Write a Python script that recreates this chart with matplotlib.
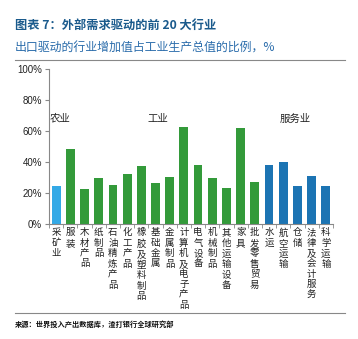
import matplotlib
matplotlib.use("Agg")
import matplotlib.pyplot as plt
from matplotlib.lines import Line2D

plt.rcParams['font.family'] = ['Noto Sans CJK SC', 'DejaVu Sans']

# data
industries = ['采矿业', '服装', '木材产品', '纸制品', '石油精炼产品', '化工产品',
              '橡胶及塑料制品', '基础金属', '金属制品', '计算机及电子产品', '电气设备',
              '机械制品', '其他运输设备', '家具', '批发零售贸易', '水运', '航空运输',
              '仓储', '法律及会计服务', '科学运输']
shares = [24.9, 48.7, 22.7, 30.0, 25.3, 32.5, 37.2, 26.8, 30.7, 62.5, 38.3,
          30.0, 23.6, 61.7, 27.3, 37.9, 39.8, 24.5, 31.2, 24.9]
sector = ['农业'] + ['工业'] * 14 + ['服务业'] * 5

colors = {'农业': '#33a9e6', '工业': '#339a3a', '服务业': '#1c74b3'}
bar_colors = [colors[s] for s in sector]

fig = plt.figure(figsize=(3.58, 3.39), dpi=100)
ax = fig.add_axes([0.137, 0.339, 0.793, 0.457])

x = range(len(industries))
ax.bar(x, shares, width=0.62, color=bar_colors)
ax.set_xlim(-0.5, len(industries) - 0.5)
ax.set_ylim(0, 100)
ax.set_yticks([0, 20, 40, 60, 80, 100])
ax.set_yticklabels(['%d%%' % v for v in [0, 20, 40, 60, 80, 100]],
                   fontsize=7, family='Liberation Sans', color='#222222')
ax.set_xticks(list(x))
ax.set_xticklabels(['\n'.join(n) for n in industries], fontsize=6.8,
                   va='top', linespacing=1.2, color='#222222')
ax.set_xticks([i - 0.5 for i in range(len(industries) + 1)], minor=True)
ax.tick_params(axis='x', which='major', length=0, pad=3)
ax.tick_params(axis='x', which='minor', length=3, color='#888888')
ax.tick_params(axis='y', length=3, color='#888888', pad=2)
for side in ['top', 'right']:
    ax.spines[side].set_visible(False)
for side in ['left', 'bottom']:
    ax.spines[side].set_color('#888888')

# sector labels
ax.text(-0.45, 66, '农业', fontsize=7.5, color='#222222')
ax.text(6.4, 66, '工业', fontsize=7.5, color='#222222')
ax.text(15.75, 66, '服务业', fontsize=7.5, color='#222222')

# title block
fig.text(0.042, 0.925, '图表 7：外部需求驱动的前 20 大行业', fontsize=8.8,
         fontweight='bold', color='#1a5a8c', va='center')
fig.text(0.042, 0.858, '出口驱动的行业增加值占工业生产总值的比例，%', fontsize=8.6,
         style='italic', color='#2a6cab', va='center')
fig.add_artist(Line2D([0.042, 0.965], [0.822, 0.822], color='#888888', lw=0.8))
fig.add_artist(Line2D([0.042, 0.965], [0.077, 0.077], color='#888888', lw=0.8))
fig.text(0.042, 0.045, '来源：世界投入产出数据库，渣打银行全球研究部', fontsize=5.2,
         fontweight='bold', color='#111111', va='center')

fig.savefig('out.png', dpi=100)
